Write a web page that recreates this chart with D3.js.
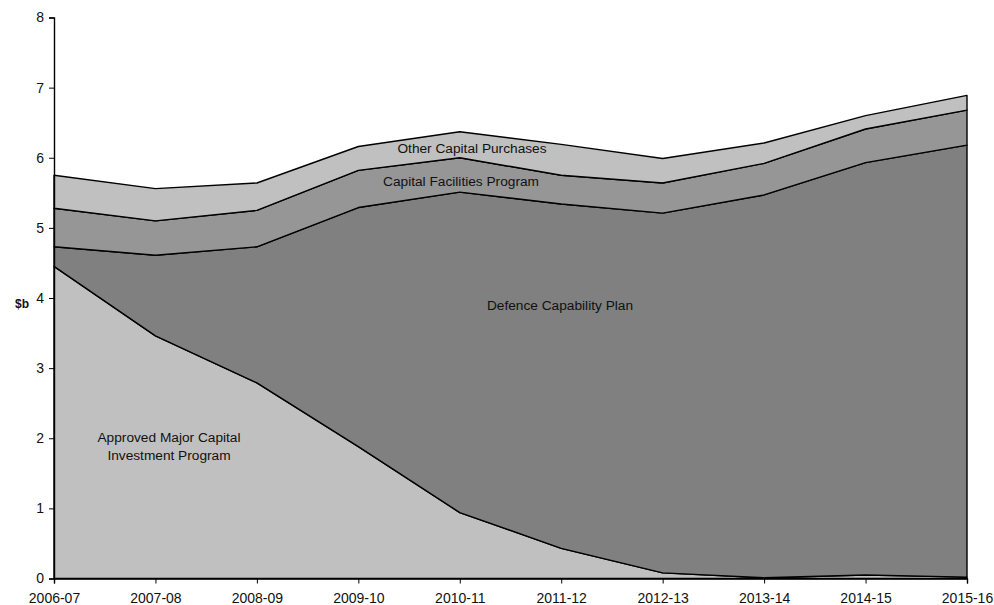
<!DOCTYPE html>
<html>
<head>
<meta charset="utf-8">
<script src="https://cdn.jsdelivr.net/npm/d3@7"></script>
<style>
  body { margin: 0; background: #fff; }
  text { font-family: "Liberation Sans", Arial, sans-serif; fill: #111; }
</style>
</head>
<body>
<svg id="chart" width="994" height="605"></svg>
<script>
// values in $b
var years = ["2006-07", "2007-08", "2008-09", "2009-10", "2010-11",
             "2011-12", "2012-13", "2013-14", "2014-15", "2015-16"];
var approved   = [4.45, 3.46, 2.79, 1.88, 0.94, 0.43, 0.08, 0.01, 0.05, 0.02];
var capability = [0.28, 1.15, 1.94, 3.41, 4.57, 4.91, 5.13, 5.46, 5.88, 6.16];
var facilities = [0.55, 0.49, 0.52, 0.53, 0.49, 0.41, 0.43, 0.45, 0.48, 0.50];
var other      = [0.47, 0.46, 0.39, 0.34, 0.37, 0.44, 0.35, 0.29, 0.19, 0.21];
var yTicks = [0, 1, 2, 3, 4, 5, 6, 7, 8];

var keys = ["approved", "capability", "facilities", "other"];
var fills = { approved: "#c0c0c0", capability: "#808080", facilities: "#969696", other: "#c0c0c0" };

var rows = years.map(function (y, i) {
  return { year: y, approved: approved[i], capability: capability[i],
           facilities: facilities[i], other: other[i] };
});

var margin = { top: 17.5, right: 27, bottom: 26.5, left: 54 };
var svg = d3.select("#chart");
var width = 994 - margin.left - margin.right;
var height = 605 - margin.top - margin.bottom;
var g = svg.append("g").attr("transform", "translate(" + margin.left + "," + margin.top + ")");

var x = d3.scalePoint().domain(years).range([0, width]).padding(0);
var y = d3.scaleLinear().domain([0, 8]).range([height, 0]);

var series = d3.stack().keys(keys)(rows);

var area = d3.area()
  .x(function (d) { return x(d.data.year); })
  .y0(function (d) { return y(d[0]); })
  .y1(function (d) { return y(d[1]); });

g.selectAll("path.layer").data(series).enter().append("path")
  .attr("class", "layer")
  .attr("d", area)
  .attr("fill", function (d) { return fills[d.key]; })
  .attr("stroke", "#000")
  .attr("stroke-width", 1.4)
  .attr("stroke-linejoin", "round");

// axes
var yAxisG = g.append("g").call(d3.axisLeft(y).tickValues(yTicks).tickSize(5).tickPadding(5));
var xAxisG = g.append("g").attr("transform", "translate(0," + height + ")")
  .call(d3.axisBottom(x).tickSize(5).tickPadding(10));

[yAxisG, xAxisG].forEach(function (ax) {
  ax.select(".domain").attr("stroke", "#000").attr("stroke-width", 1.4);
  ax.selectAll(".tick line").attr("stroke", "#000");
  ax.selectAll("text").style("font-size", "14px").style("font-family", "Liberation Sans, Arial, sans-serif").attr("fill", "#111");
});

svg.append("text").attr("x", 22).attr("y", 308).attr("text-anchor", "middle")
  .style("font-size", "12px").style("font-weight", "bold").text("$b");

// series labels
function label(txt, cx, cy) {
  g.append("text").attr("x", cx - margin.left).attr("y", cy - margin.top)
    .attr("text-anchor", "middle").attr("dy", "0.35em")
    .style("font-size", "13.7px").text(txt);
}
label("Other Capital Purchases", 472, 148);
label("Capital Facilities Program", 461, 181);
label("Defence Capability Plan", 560, 305);
label("Approved Major Capital", 169, 437);
label("Investment Program", 169, 455);
</script>
</body>
</html>
